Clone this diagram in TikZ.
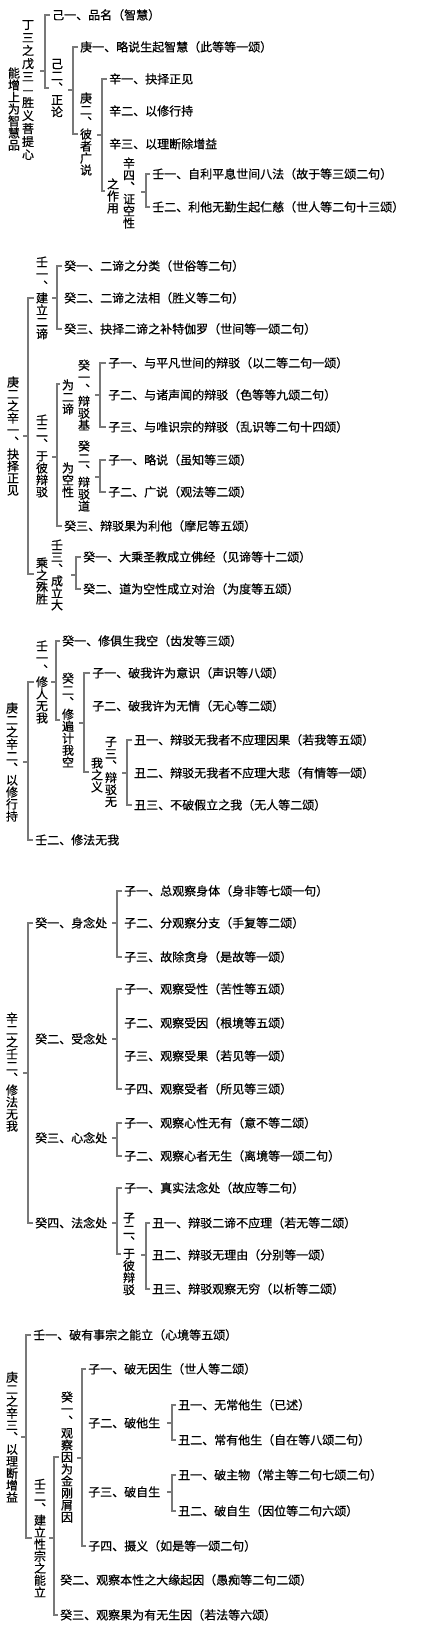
\documentclass[tikz,border=0pt]{standalone}
\usepackage{fontspec}
\newfontfamily\cjk[FakeBold=0.6]{Noto Sans CJK SC}
\newfontfamily\cjkv[RawFeature=+vert,FakeBold=0.6]{Noto Sans CJK SC}
\usetikzlibrary{calc}
\definecolor{brgray}{RGB}{120,120,120}
\newcommand\vtloop[1]{\ifx\relax#1\else\hbox to 12pt{\hss#1\hss}\expandafter\vtloop\fi}
\newcommand\vt[2][12pt]{\vbox{\baselineskip=#1\lineskiplimit=-\maxdimen\lineskip=0pt\vtloop#2\relax}}
\newcommand\brk[3]{%
  \draw[br] ($(#2.west)+(-2,0)$) -- (#2.west -| #1) -- (#3.west -| #1) -- ($(#3.west)+(-2,0)$);
  \draw[br] (#1) -- ++(-5,0);}
\begin{document}
\begin{tikzpicture}[x=1pt,y=-1pt,
  lbl/.style={anchor=west, inner sep=0pt, text height=10.5pt, text depth=1.5pt, font=\cjk\fontsize{12}{12}\selectfont},
  col/.style={inner sep=0pt, font=\cjkv\fontsize{12}{12}\selectfont},
  br/.style={draw=brgray, line width=1.3pt},
  pt/.style={inner sep=0pt, minimum size=0pt}]
\useasboundingbox[fill=white] (0,0) rectangle (430,1631);

% ---------- Section 1 ----------
\node[col] (A1) at (14,109) {\vt{能增上为智慧品}};
\node[col] (A2) at (28,90) {\vt[13pt]{丁三之戊三—胜义菩提心}};
\node[lbl] (J1) at (52,15) {己一、品名（智慧）};
\node[col] (J2) at (57,88) {\vt{己二、正论}};
\coordinate (B1) at (45,71);
\brk{B1}{J1}{J2}
\node[lbl] (G1) at (80,47) {庚一、略说生起智慧（此等等一颂）};
\node[col] (G2) at (86,134) {\vt{庚二、彼者广说}};
\coordinate (B2) at (73,90);
\brk{B2}{G1}{G2}
\node[lbl] (X1) at (109,79) {辛一、抉择正见};
\node[lbl] (X2) at (109,111) {辛二、以修行持};
\node[lbl] (X3) at (109,144) {辛三、以理断除增益};
\node[col] (X4r) at (129,193) {\vt{辛四、证空性}};
\node[col] (X4l) at (113,196) {\vt{之作用}};
\node[pt] (X4t) at ($(X4l.west)+(0,-5)$) {};
\coordinate (B3) at (102,135);
\brk{B3}{X1}{X4t}
\node[lbl] (W1) at (152,174) {壬一、自利平息世间八法（故于等三颂二句）};
\node[lbl] (W2) at (152,207) {壬二、利他无勤生起仁慈（世人等二句十三颂）};
\coordinate (B4) at (146,192);
\brk{B4}{W1}{W2}

% ---------- Section 2 ----------
\node[col] (S2) at (13,436) {\vt{庚二之辛一、抉择正见}};
\node[col] (K1) at (42,298) {\vt{壬一、建立二谛}};
\node[col] (K2) at (42,456) {\vt{壬二、于彼辩驳}};
\node[col] (K3r) at (57,575) {\vt{壬三、成立大}};
\node[col] (K3l) at (42,581) {\vt{乘之殊胜}};
\node[pt] (K3t) at ($(K3l.west)+(0,-7)$) {};
\coordinate (B5) at (28,436);
\brk{B5}{K1}{K3t}
\node[lbl] (Q1) at (64,266) {癸一、二谛之分类（世俗等二句）};
\node[lbl] (Q2) at (64,298) {癸二、二谛之法相（胜义等二句）};
\node[lbl] (Q3) at (64,329) {癸三、抉择二谛之补特伽罗（世间等一颂二句）};
\coordinate (B6) at (57,298);
\brk{B6}{Q1}{Q3}
\node[col] (R1r) at (84,395) {\vt{癸一、辩驳基}};
\node[col] (R1l) at (68,397) {\vt{为二谛}};
\node[pt] (R1t) at ($(R1l.west)+(0,-13)$) {};
\node[col] (R2r) at (84,476) {\vt{癸二、辩驳道}};
\node[col] (R2l) at (68,480) {\vt{为空性}};
\node[lbl] (R3) at (64,526) {癸三、辩驳果为利他（摩尼等五颂）};
\coordinate (B7) at (57,457);
\brk{B7}{R1t}{R3}
\node[lbl] (Z1) at (108,363) {子一、与平凡世间的辩驳（以二等二句一颂）};
\node[lbl] (Z2) at (108,395) {子二、与诸声闻的辩驳（色等等九颂二句）};
\node[lbl] (Z3) at (108,427) {子三、与唯识宗的辩驳（乱识等二句十四颂）};
\coordinate (B8) at (100,395);
\brk{B8}{Z1}{Z3}
\node[lbl] (Z4) at (108,460) {子一、略说（虽知等三颂）};
\node[lbl] (Z5) at (108,492) {子二、广说（观法等二颂）};
\coordinate (B9) at (100,477);
\brk{B9}{Z4}{Z5}
\node[lbl] (V1) at (83,557) {癸一、大乘圣教成立佛经（见谛等十二颂）};
\node[lbl] (V2) at (83,589) {癸二、道为空性成立对治（为度等五颂）};
\coordinate (B10) at (76,575);
\brk{B10}{V1}{V2}

% ---------- Section 3 ----------
\node[col] (S3) at (12,762) {\vt{庚二之辛二、以修行持}};
\node[col] (M1) at (42,682) {\vt{壬一、修人无我}};
\node[lbl] (M2) at (35,840) {壬二、修法无我};
\coordinate (B11) at (28,762);
\brk{B11}{M1}{M2}
\node[lbl] (N1) at (62,641) {癸一、修俱生我空（齿发等三颂）};
\node[col] (N2) at (68,720) {\vt{癸二、修遍计我空}};
\coordinate (B12) at (56,682);
\brk{B12}{N1}{N2}
\node[lbl] (P1) at (92,673) {子一、破我许为意识（声识等八颂）};
\node[lbl] (P2) at (92,706) {子二、破我许为无情（无心等二颂）};
\node[col] (P3r) at (111,772) {\vt{子三、辩驳无}};
\node[col] (P3l) at (97,775) {\vt{我之义}};
\node[pt] (P3t) at ($(P3l.west)+(0,-3)$) {};
\coordinate (B13) at (84,723);
\brk{B13}{P1}{P3t}
\node[lbl] (U1) at (134,740) {丑一、辩驳无我者不应理因果（若我等五颂）};
\node[lbl] (U2) at (134,773) {丑二、辩驳无我者不应理大悲（有情等一颂）};
\node[lbl] (U3) at (134,805) {丑三、不破假立之我（无人等二颂）};
\coordinate (B14) at (127,773);
\brk{B14}{U1}{U3}

% ---------- Section 4 ----------
\node[col] (S4) at (12,1072) {\vt{辛二之壬二、修法无我}};
\node[lbl] (L1) at (35,923) {癸一、身念处};
\node[lbl] (L2) at (35,1039) {癸二、受念处};
\node[lbl] (L3) at (35,1138) {癸三、心念处};
\node[lbl] (L4) at (35,1223) {癸四、法念处};
\coordinate (B15) at (28,1073);
\brk{B15}{L1}{L4}
\node[lbl] (H1) at (124,891) {子一、总观察身体（身非等七颂一句）};
\node[lbl] (H2) at (124,923) {子二、分观察分支（手复等二颂）};
\node[lbl] (H3) at (124,957) {子三、故除贪身（是故等一颂）};
\coordinate (B16) at (117,923);
\brk{B16}{H1}{H3}
\node[lbl] (E1) at (124,989) {子一、观察受性（苦性等五颂）};
\node[lbl] (E2) at (124,1023) {子二、观察受因（根境等五颂）};
\node[lbl] (E3) at (124,1056) {子三、观察受果（若见等一颂）};
\node[lbl] (E4) at (124,1089) {子四、观察受者（所见等三颂）};
\coordinate (B17) at (117,1039);
\brk{B17}{E1}{E4}
\node[lbl] (F1) at (124,1123) {子一、观察心性无有（意不等二颂）};
\node[lbl] (F2) at (124,1156) {子二、观察心者无生（离境等一颂二句）};
\coordinate (B18) at (117,1138);
\brk{B18}{F1}{F2}
\node[lbl] (D1) at (124,1188) {子一、真实法念处（故应等二句）};
\node[col] (D2) at (129,1254) {\vt{子二、于彼辩驳}};
\coordinate (B19) at (117,1223);
\brk{B19}{D1}{D2}
\node[lbl] (Y1) at (152,1223) {丑一、辩驳二谛不应理（若无等二颂）};
\node[lbl] (Y2) at (152,1255) {丑二、辩驳无理由（分别等一颂）};
\node[lbl] (Y3) at (152,1289) {丑三、辩驳观察无穷（以析等二颂）};
\coordinate (B20) at (146,1255);
\brk{B20}{Y1}{Y3}

% ---------- Section 5 ----------
\node[col] (S5) at (12,1437) {\vt{庚二之辛三、以理断增益}};
\node[lbl] (O1) at (33,1335) {壬一、破有事宗之能立（心境等五颂）};
\node[col] (O2) at (40,1538) {\vt{壬二、建立性宗之能立}};
\coordinate (B21) at (26,1437);
\brk{B21}{O1}{O2}
\node[col] (T1) at (67,1457) {\vt{癸一、观察因为金刚屑因}};
\node[lbl] (T2) at (60,1580) {癸二、观察本性之大缘起因（愚痴等二句二颂）};
\node[lbl] (T3) at (60,1615) {癸三、观察果为有无生因（若法等六颂）};
\coordinate (B22) at (54,1538);
\brk{B22}{T1}{T3}
\node[lbl] (I1) at (88,1369) {子一、破无因生（世人等二颂）};
\node[lbl] (I2) at (88,1423) {子二、破他生};
\node[lbl] (I3) at (88,1492) {子三、破自生};
\node[lbl] (I4) at (88,1546) {子四、摄义（如是等一颂二句）};
\coordinate (B23) at (82,1458);
\brk{B23}{I1}{I4}
\node[lbl] (C21) at (178,1405) {丑一、无常他生（已述）};
\node[lbl] (C22) at (178,1440) {丑二、常有他生（自在等八颂二句）};
\coordinate (B24) at (172,1423);
\brk{B24}{C21}{C22}
\node[lbl] (C31) at (178,1475) {丑一、破主物（常主等二句七颂二句）};
\node[lbl] (C32) at (178,1511) {丑二、破自生（因位等二句六颂）};
\coordinate (B25) at (172,1492);
\brk{B25}{C31}{C32}
\end{tikzpicture}
\end{document}
